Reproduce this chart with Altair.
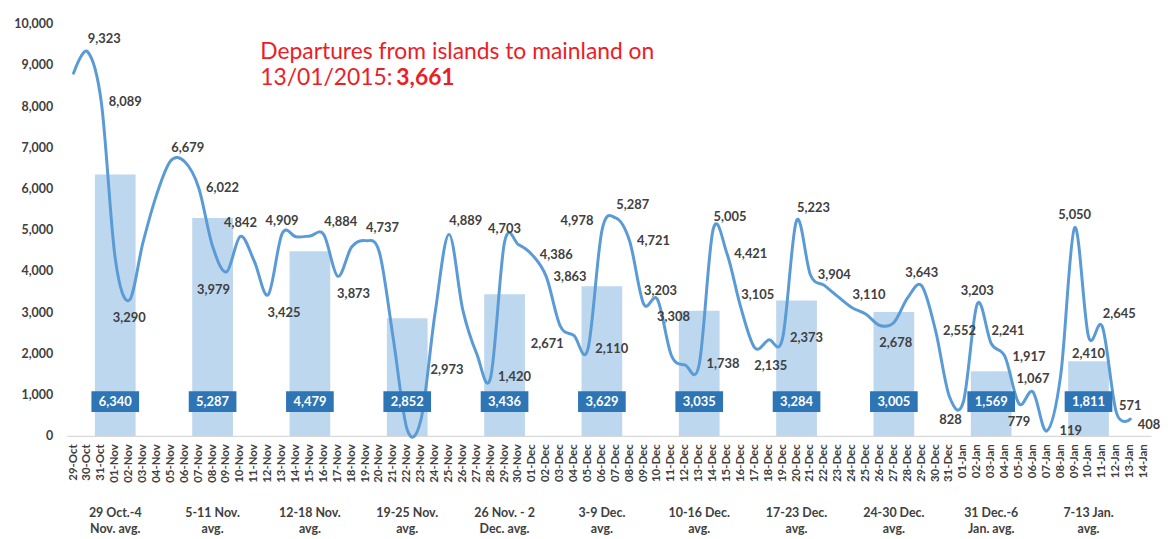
import altair as alt
import pandas as pd

# ---------------- data ----------------
DATES = [d.strftime("%d-%b") for d in pd.date_range("2014-10-29", "2015-01-14", freq="D")]

DEPARTURES = [
    8800, 9323, 8089, 4300, 3290, 4700, 5878, 6679, 6650, 6022, 4600, 3979, 4842, 4237,
    3425, 4909, 4830, 4850, 4884, 3873, 4582, 4737, 4450, 2350, 150, 415, 2973, 4889,
    3050, 1990, 1420, 4703, 4640, 4386, 3863, 2671, 2433, 2110, 4978, 5287, 4721, 3203,
    3308, 1950, 1718, 1738, 5005, 4421, 3105, 2135, 2330, 2373, 5223, 3904, 3650, 3373,
    3110, 2950, 2678, 2750, 3352, 3643, 2552, 948, 828, 3203, 2241, 1917, 779, 1067,
    119, 1474, 5050, 2410, 2645, 571, 408,
]

WEEK_AVG = [6340, 5287, 4479, 2852, 3436, 3629, 3035, 3284, 3005, 1569, 1811]
WEEK_NAMES = [
    "29 Oct.-4|Nov. avg.", "5-11 Nov.|avg.", "12-18 Nov.|avg.", "19-25 Nov.|avg.",
    "26 Nov. - 2|Dec. avg.", "3-9 Dec.|avg.", "10-16 Dec.|avg.", "17-23 Dec.|avg.",
    "24-30 Dec.|avg.", "31 Dec.-6|Jan. avg.", "7-13 Jan.|avg.",
]
WEEK_MID = ["01-Nov", "08-Nov", "15-Nov", "22-Nov", "29-Nov", "06-Dec",
            "13-Dec", "20-Dec", "27-Dec", "03-Jan", "10-Jan"]
Y_TICKS = list(range(0, 10001, 1000))

ANNOTATION_LINE1 = "Departures from islands to mainland on"
ANNOTATION_LINE2 = "13/01/2015:"
ANNOTATION_VALUE = "3,661"

# which daily points carry a value label, and where the label sits
LABEL_PLACEMENT = {
    "30-Oct": "NE", "31-Oct": "E", "02-Nov": "S", "05-Nov": "NE", "07-Nov": "E",
    "09-Nov": "SW", "10-Nov": "N", "12-Nov": "SE", "13-Nov": "N", "16-Nov": "NE",
    "17-Nov": "SE", "19-Nov": "NE", "24-Nov": "S2", "25-Nov": "NE", "28-Nov": "E",
    "29-Nov": "N", "01-Dec": "E", "02-Dec": "E", "03-Dec": "SW", "05-Dec": "E",
    "06-Dec": "W", "07-Dec": "NE", "08-Dec": "E", "09-Dec": "NE", "10-Dec": "SE",
    "13-Dec": "E", "14-Dec": "NE", "15-Dec": "E", "16-Dec": "NE", "17-Dec": "SE",
    "19-Dec": "E", "20-Dec": "NE", "21-Dec": "E", "24-Dec": "NE", "26-Dec": "SE",
    "29-Dec": "N", "30-Dec": "E", "01-Jan": "SW", "02-Jan": "N", "03-Jan": "NE",
    "04-Jan": "E", "05-Jan": "S", "06-Jan": "N", "07-Jan": "E", "09-Jan": "N",
    "10-Jan": "S", "11-Jan": "NE", "12-Jan": "E1", "13-Jan": "E2",
}
OFFSETS = {"N": (0, -13), "NE": (17, -13), "E": (24, 0), "SE": (16, 18),
           "S": (0, 18), "SW": (-13, 18), "W": (-25, -10), "S2": (12, 57),
           "E1": (14, -6), "E2": (19, 6)}

daily = pd.DataFrame({"date": DATES[:len(DEPARTURES)], "value": DEPARTURES})
daily["label"] = daily["value"].map(lambda v: f"{v:,}")
daily["pos"] = daily["date"].map(lambda d: LABEL_PLACEMENT.get(d, ""))

weekly = pd.DataFrame({"date": WEEK_MID, "avg": WEEK_AVG, "name": WEEK_NAMES})
weekly["label"] = weekly["avg"].map(lambda v: f"{v:,}")

# ---------------- styling ----------------
FONT = "Lato"
TXT = "#404040"
LINE_C = "#5B9BD5"
BAR_C = "#BDD7EE"
BOX_C = "#2E75B6"
RED = "#EE1C25"

X_SCALE = alt.Scale(type="band", domain=DATES, paddingInner=0, paddingOuter=0)
Y_SCALE = alt.Scale(domain=[0, 10000], nice=False, zero=True)

X_AXIS = alt.Axis(
    labelAngle=-90, labelFont=FONT, labelFontWeight="bold", labelFontSize=11.5,
    labelColor=TXT, ticks=False, domainColor="#D9D9D9", domainWidth=1.2,
    labelPadding=8, labelOverlap=False, title=None, grid=False,
)
Y_AXIS = alt.Axis(
    values=Y_TICKS, labelExpr="format(datum.value, ',')", grid=False, domain=False,
    ticks=False, labelFont=FONT, labelFontWeight="bold", labelFontSize=12.5,
    labelColor=TXT, labelPadding=14, title=None,
)


def xenc(center=True):
    kw = dict(scale=X_SCALE, sort=None, axis=X_AXIS, title=None)
    if center:
        kw["bandPosition"] = 0.5
    return alt.X("date:O", **kw)


def yenc(field):
    return alt.Y(field, scale=Y_SCALE, axis=Y_AXIS, title=None)


bars = alt.Chart(weekly).mark_bar(color=BAR_C, size=41).encode(
    x=xenc(center=False), y=yenc("avg:Q"),
)

line = alt.Chart(daily).mark_line(
    color=LINE_C, strokeWidth=3, interpolate="cardinal", strokeCap="round"
).encode(x=xenc(), y=yenc("value:Q"))

boxes = alt.Chart(weekly).mark_bar(color=BOX_C, size=48).encode(
    x=xenc(center=False), y=alt.value(370), y2=alt.value(391),
)
box_text = alt.Chart(weekly).mark_text(
    font=FONT, fontWeight="bold", fontSize=13, color="white", baseline="middle"
).encode(x=xenc(), y=alt.value(381), text="label:N")

week_names = alt.Chart(weekly).mark_text(
    font=FONT, fontWeight="bold", fontSize=12.5, color=TXT, baseline="top",
    lineBreak="|", lineHeight=16,
).encode(x=xenc(), y=alt.value(487), text="name:N")

label_layers = []
for key, (dx, dy) in OFFSETS.items():
    label_layers.append(
        alt.Chart(daily)
        .transform_filter(alt.datum.pos == key)
        .mark_text(font=FONT, fontWeight="bold", fontSize=13, color=TXT,
                   dx=dx, dy=dy, baseline="middle", align="center")
        .encode(x=xenc(), y=yenc("value:Q"), text="label:N")
    )

ann = pd.DataFrame({"l1": [ANNOTATION_LINE1], "l2": [ANNOTATION_LINE2], "v": [ANNOTATION_VALUE]})
ann1 = alt.Chart(ann).mark_text(font=FONT, fontSize=23, color=RED, align="left",
                                baseline="middle").encode(x=alt.value(195), y=alt.value(29), text="l1:N")
ann2 = alt.Chart(ann).mark_text(font=FONT, fontSize=23, color=RED, align="left",
                                baseline="middle").encode(x=alt.value(195), y=alt.value(55), text="l2:N")
ann3 = alt.Chart(ann).mark_text(font=FONT, fontSize=23, fontWeight="bold", color=RED, align="left",
                                baseline="middle").encode(x=alt.value(332), y=alt.value(55), text="v:N")

chart = alt.layer(
    bars, line, boxes, box_text, week_names, *label_layers, ann1, ann2, ann3
).properties(
    width=1092, height=415,
    autosize=alt.AutoSizeParams(type="none"),
    padding={"left": 59, "top": 14, "right": 12, "bottom": 102},
).configure_view(stroke=None)

chart.save("out.html", embed_options={"renderer": "svg", "actions": False})
